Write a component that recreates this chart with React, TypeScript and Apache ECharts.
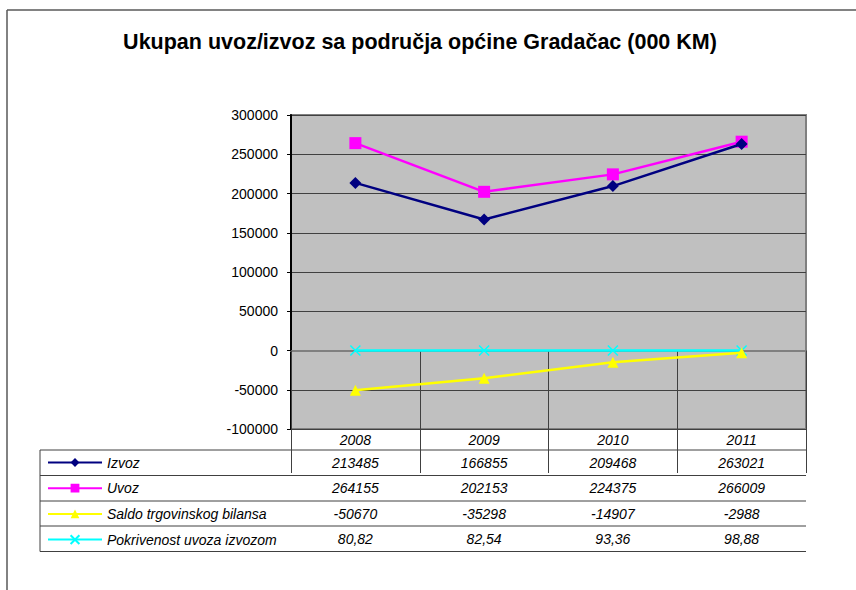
import React, { useEffect, useRef } from 'react';
import * as echarts from 'echarts';

const years = ['2008', '2009', '2010', '2011'];
const izvoz = [213485, 166855, 209468, 263021];
const uvoz = [264155, 202153, 224375, 266009];
const saldo = [-50670, -35298, -14907, -2988];
const pokrivenost = [80.82, 82.54, 93.36, 98.88];
const seriesNames = ['Izvoz', 'Uvoz', 'Saldo trgovinskog bilansa', 'Pokrivenost uvoza izvozom'];
const seriesColors = ['#000080', '#FF00FF', '#FFFF00', '#00FFFF'];
const yMin = -100000;
const yMax = 300000;
const yInterval = 50000;
const titleText = 'Ukupan uvoz/izvoz sa područja općine Gradačac (000 KM)';

const FONT = '"Liberation Sans", Arial, Helvetica, sans-serif';

const fmt = (v: number) => (Number.isInteger(v) ? String(v) : v.toFixed(2).replace('.', ','));

export default function App() {
  const ref = useRef<HTMLDivElement>(null);
  useEffect(() => {
    if (!ref.current) return;
    const chart = echarts.init(ref.current, undefined, { renderer: 'svg' });
    const gridLeft = 291;
    const gridTop = 115;
    const gridW = 515;
    const gridH = 314;
    const gridBottom = gridTop + gridH;
    const rowCenters = [462.5, 488, 513.5, 538.5];
    const rowLines = [450, 475.5, 501, 526, 551.5];
    const tableLeft = 40;
    const valueRows = [izvoz, uvoz, saldo, pokrivenost];

    const extraAxes = valueRows.map((vals, i) => ({
      type: 'category',
      position: 'bottom',
      offset: rowCenters[i] - gridBottom,
      data: vals.map(fmt),
      axisLine: { show: false },
      axisTick: { show: false },
      splitLine: { show: false },
      axisLabel: {
        interval: 0,
        margin: 0,
        verticalAlign: 'middle',
        color: '#000',
        fontFamily: FONT,
        fontStyle: 'italic',
        fontSize: 14,
      },
    }));

    const symbols = ['diamond', 'rect', 'triangle', 'path://M0,0L10,10M10,0L0,10'];
    const sizes = [12, 12, 11, 10];
    const dataSets = [izvoz, uvoz, saldo, pokrivenost];

    const graphics: any[] = [
      { type: 'line', shape: { x1: 7, y1: 10, x2: 7, y2: 600 }, style: { stroke: '#595959', lineWidth: 1.5 } },
      { type: 'line', shape: { x1: 7, y1: 10, x2: 860, y2: 10 }, style: { stroke: '#595959', lineWidth: 1.5 } },
      { type: 'line', shape: { x1: tableLeft, y1: rowLines[0], x2: tableLeft, y2: rowLines[rowLines.length - 1] }, style: { stroke: '#404040', lineWidth: 1 } },
      ...rowLines.map((y) => ({
        type: 'line',
        shape: { x1: tableLeft, y1: y, x2: gridLeft + gridW, y2: y },
        style: { stroke: '#404040', lineWidth: 1 },
      })),
      {
        type: 'text',
        x: 420,
        y: 42,
        style: {
          text: titleText,
          font: `bold 21.5px ${FONT}`,
          fill: '#000',
          align: 'center',
          verticalAlign: 'middle',
        },
      },
    ];

    chart.setOption({
      animation: false,
      backgroundColor: '#fff',
      grid: {
        left: gridLeft,
        top: gridTop,
        width: gridW,
        height: gridH,
        show: true,
        backgroundColor: '#C0C0C0',
        borderColor: '#808080',
        borderWidth: 2,
        containLabel: false,
        outerBoundsMode: 'none',
      },
      legend: {
        show: true,
        orient: 'vertical',
        left: 47,
        top: rowCenters[0] - 7,
        padding: 0,
        itemWidth: 54,
        itemHeight: 11,
        itemGap: 11.7,
        selectedMode: false,
        data: seriesNames,
        textStyle: { color: '#000', fontFamily: FONT, fontStyle: 'italic', fontSize: 14 },
      },
      xAxis: [
        {
          type: 'category',
          data: years,
          boundaryGap: true,
          axisLine: { show: true, lineStyle: { color: '#808080', width: 2 } },
          axisTick: { show: true, interval: 0, length: rowLines[rowLines.length - 1] - gridBottom, lineStyle: { color: '#404040', width: 1 } },
          splitLine: { show: false },
          axisLabel: {
            interval: 0,
            margin: 11,
            verticalAlign: 'middle',
            color: '#000',
            fontFamily: FONT,
            fontStyle: 'italic',
            fontSize: 14,
          },
        },
        ...extraAxes,
      ],
      yAxis: {
        type: 'value',
        min: yMin,
        max: yMax,
        interval: yInterval,
        axisLine: { show: true, lineStyle: { color: '#000', width: 2 } },
        axisTick: { show: true, length: 4, lineStyle: { color: '#000', width: 1 } },
        splitLine: { show: true, lineStyle: { color: '#404040', width: 1 } },
        axisLabel: {
          color: '#000',
          fontFamily: FONT,
          fontSize: 14,
          margin: 13,
          formatter: (v: number) => String(v),
        },
      },
      series: seriesNames.map((name, i) => ({
        name,
        type: 'line',
        data: dataSets[i],
        symbol: symbols[i],
        symbolSize: sizes[i],
        showAllSymbol: true,
        lineStyle: { color: seriesColors[i], width: 2.5 },
        itemStyle: i === 3
          ? { color: seriesColors[i], borderColor: seriesColors[i], borderWidth: 1.5 }
          : { color: seriesColors[i], borderWidth: 0 },
        z: 10 - i,
      })),
      graphic: graphics,
    });
    return () => chart.dispose();
  }, []);
  return (
    <div
      ref={ref}
      style={{ position: 'fixed', left: 0, top: 0, width: 856, height: 590, background: '#fff' }}
    />
  );
}
